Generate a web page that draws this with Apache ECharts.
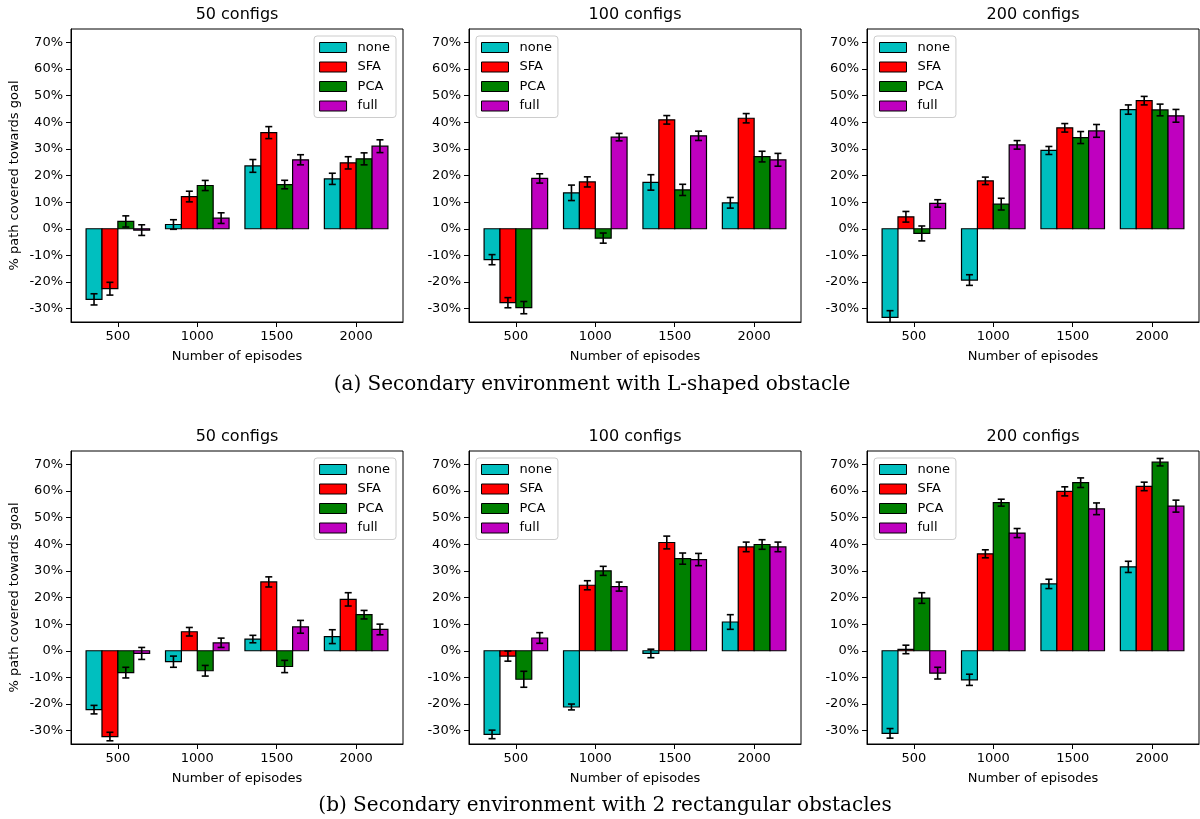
<!DOCTYPE html>
<html>
<head>
<meta charset="utf-8">
<title>Path covered towards goal</title>
<script src="https://cdn.jsdelivr.net/npm/echarts@6/dist/echarts.min.js"></script>
<style>
  html, body { margin: 0; padding: 0; background: #fff; }
  #chart { width: 1200px; height: 819px; }
</style>
</head>
<body>
<div id="chart"></div>
<script>
// Episode groups on the x axis and the four state representations
const episodes = [500, 1000, 1500, 2000];
const methods = ['none', 'SFA', 'PCA', 'full'];
const methodColors = ['#00bfbf', '#ff0000', '#008000', '#bf00bf'];
const panelTitles = ['50 configs', '100 configs', '200 configs'];
const yTicks = [-30, -20, -10, 0, 10, 20, 30, 40, 50, 60, 70];
const captions = [
  '(a) Secondary environment with L-shaped obstacle',
  '(b) Secondary environment with 2 rectangular obstacles'
];

// (a) L-shaped obstacle: mean % per method (rows: none, SFA, PCA, full) and std error
const lShaped50Mean  = [[-26.5, 1.6, 23.6, 18.75], [-22.5, 12.1, 36.1, 24.75], [2.75, 16.25, 16.6, 26.25], [-0.5, 4.0, 25.9, 31.0]];
const lShaped50Err   = [[2.1, 1.8, 2.4, 2.1], [2.4, 2.0, 2.25, 2.3], [2.1, 1.9, 1.6, 2.25], [2.0, 2.0, 1.9, 2.4]];
const lShaped100Mean = [[-11.6, 13.5, 17.4, 9.75], [-27.75, 17.6, 40.9, 41.5], [-29.6, -3.5, 14.6, 27.1], [18.9, 34.4, 34.9, 25.9]];
const lShaped100Err  = [[1.9, 2.9, 2.9, 2.0], [1.9, 1.9, 1.6, 1.75], [2.3, 1.9, 2.1, 2.0], [1.75, 1.4, 1.75, 2.4]];
const lShaped200Mean = [[-33.25, -19.25, 29.4, 44.75], [4.5, 18.0, 37.9, 48.1], [-1.75, 9.25, 34.25, 44.6], [9.5, 31.5, 36.75, 42.4]];
const lShaped200Err  = [[2.5, 2.0, 1.5, 1.75], [2.0, 1.4, 1.6, 1.6], [2.8, 2.2, 2.25, 2.2], [1.4, 1.6, 2.4, 2.4]];

// (b) two rectangular obstacles
const rect50Mean  = [[-22.1, -4.1, 4.4, 5.3], [-32.2, 7.15, 25.85, 19.3], [-8.2, -7.5, -5.9, 13.55], [-1.0, 3.0, 9.0, 8.0]];
const rect50Err   = [[1.6, 2.1, 1.4, 2.6], [1.6, 1.6, 1.9, 2.5], [2.0, 2.0, 2.3, 1.6], [2.25, 1.75, 2.4, 2.0]];
const rect100Mean = [[-31.4, -21.1, -1.0, 10.8], [-2.0, 24.6, 40.65, 39.0], [-10.7, 30.0, 34.6, 39.9], [4.8, 24.1, 34.25, 39.0]];
const rect100Err  = [[1.6, 1.1, 1.6, 2.75], [1.9, 1.7, 2.4, 1.8], [3.0, 1.7, 2.1, 1.8], [2.0, 1.7, 2.3, 1.8]];
const rect200Mean = [[-31.0, -10.9, 25.1, 31.5], [0.5, 36.4, 59.85, 61.7], [19.8, 55.6, 63.1, 70.8], [-8.4, 44.2, 53.3, 54.3]];
const rect200Err  = [[1.8, 2.1, 1.75, 2.1], [1.6, 1.5, 1.7, 1.6], [2.0, 1.3, 1.8, 1.4], [2.2, 1.7, 2.2, 2.25]];

const panels = [
  { mean: lShaped50Mean,  err: lShaped50Err },
  { mean: lShaped100Mean, err: lShaped100Err },
  { mean: lShaped200Mean, err: lShaped200Err },
  { mean: rect50Mean,     err: rect50Err },
  { mean: rect100Mean,    err: rect100Err },
  { mean: rect200Mean,    err: rect200Err }
];

// Layout
const BAR_W = 100;            // bar width in episode units
const colLeft = [71, 469, 867];
const rowTop = [29, 451];
const GRID_W = 332, GRID_H = 293;
const FONT = '"DejaVu Sans", sans-serif';

const chart = echarts.init(document.getElementById('chart'), null, { renderer: 'canvas' });

const grids = [], xAxes = [], yAxes = [], series = [], legends = [], graphics = [];

panels.forEach((panel, p) => {
  const row = Math.floor(p / 3), col = p % 3;
  const left = colLeft[col], top = rowTop[row];
  grids.push({
    left: left, top: top, width: GRID_W, height: GRID_H,
    show: true, borderColor: '#000', borderWidth: 1, backgroundColor: 'transparent'
  });
  xAxes.push({
    gridIndex: p, type: 'value', min: 205, max: 2295,
    name: 'Number of episodes', nameLocation: 'middle', nameGap: 28,
    nameTextStyle: { fontFamily: FONT, fontSize: 13, color: '#000' },
    axisLine: { show: true, onZero: false, lineStyle: { color: '#000', width: 1 } },
    axisTick: { show: true, length: 5, customValues: episodes, lineStyle: { color: '#000', width: 1 } },
    axisLabel: { customValues: episodes, margin: 8, fontFamily: FONT, fontSize: 13, color: '#000',
                 formatter: v => String(v) },
    splitLine: { show: false }
  });
  yAxes.push({
    gridIndex: p, type: 'value', min: -35, max: 75,
    name: col === 0 ? '% path covered towards goal' : '',
    nameLocation: 'middle', nameGap: 50, nameRotate: 90,
    nameTextStyle: { fontFamily: FONT, fontSize: 13, color: '#000' },
    axisLine: { show: true, onZero: false, lineStyle: { color: '#000', width: 1 } },
    axisTick: { show: true, length: 5, customValues: yTicks, lineStyle: { color: '#000', width: 1 } },
    axisLabel: { customValues: yTicks, margin: 8, fontFamily: FONT, fontSize: 13, color: '#000',
                 formatter: v => v + '%' },
    splitLine: { show: false }
  });

  methods.forEach((m, k) => {
    const offset = (k - 1.5) * BAR_W;
    const color = methodColors[k];
    series.push({
      type: 'custom', name: m, xAxisIndex: p, yAxisIndex: p, clip: true,
      itemStyle: { color: color, borderColor: '#000', borderWidth: 1 },
      encode: { x: 0, y: 1 },
      data: episodes.map((ep, i) => [ep, panel.mean[k][i], panel.err[k][i]]),
      renderItem: (params, api) => {
        const ep = api.value(0), v = api.value(1), e = api.value(2);
        const cx = ep + offset;
        const a = api.coord([cx - BAR_W / 2, v]);
        const b = api.coord([cx + BAR_W / 2, 0]);
        const mid = api.coord([cx, v])[0];
        const lo = api.coord([cx, v - e])[1];
        const hi = api.coord([cx, v + e])[1];
        const cap = 3.5;
        const errStyle = { stroke: '#000', lineWidth: 1.6 };
        return {
          type: 'group',
          children: [
            { type: 'rect',
              shape: { x: a[0], y: Math.min(a[1], b[1]), width: b[0] - a[0], height: Math.abs(b[1] - a[1]) },
              style: { fill: color, stroke: '#000', lineWidth: 1.2 } },
            { type: 'line', shape: { x1: mid, y1: lo, x2: mid, y2: hi }, style: errStyle },
            { type: 'line', shape: { x1: mid - cap, y1: lo, x2: mid + cap, y2: lo }, style: errStyle },
            { type: 'line', shape: { x1: mid - cap, y1: hi, x2: mid + cap, y2: hi }, style: errStyle }
          ]
        };
      }
    });
  });

  // Legend: upper right in the first column, upper left elsewhere
  const legend = {
    orient: 'vertical', top: top + 7,
    itemWidth: 27, itemHeight: 10, itemGap: 6.5,
    padding: [5, 6, 5, 5],
    borderColor: '#cccccc', borderWidth: 1, borderRadius: 3,
    backgroundColor: 'rgba(255,255,255,0.8)',
    textStyle: { fontFamily: FONT, fontSize: 13, color: '#000', lineHeight: 13, padding: [0, 0, 0, 6] },
    selectedMode: false,
    data: methods.map((m, k) => ({
      name: m, icon: 'rect',
      itemStyle: { color: methodColors[k], borderColor: '#000', borderWidth: 1 }
    }))
  };
  if (col === 0) legend.right = 1200 - (left + GRID_W - 7);
  else legend.left = left + 7;
  legends.push(legend);

  graphics.push({
    type: 'text', x: left + GRID_W / 2, y: top - 14,
    style: { text: panelTitles[col], fontFamily: FONT, fontSize: 16, fill: '#000',
             align: 'center', verticalAlign: 'middle' }
  });
});

graphics.push({
  type: 'text', x: 592, y: 385,
  style: { text: captions[0], fontFamily: '"DejaVu Serif", serif', fontSize: 20, fill: '#000',
           align: 'center', verticalAlign: 'middle' }
});
graphics.push({
  type: 'text', x: 605, y: 806,
  style: { text: captions[1], fontFamily: '"DejaVu Serif", serif', fontSize: 20, fill: '#000',
           align: 'center', verticalAlign: 'middle' }
});

chart.setOption({
  animation: false,
  backgroundColor: '#fff',
  grid: grids,
  xAxis: xAxes,
  yAxis: yAxes,
  legend: legends,
  series: series,
  graphic: graphics
});
</script>
</body>
</html>
